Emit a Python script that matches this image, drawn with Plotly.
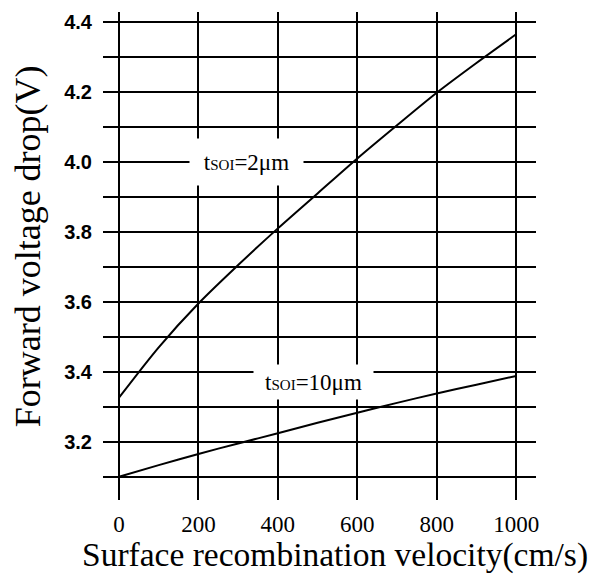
import plotly.graph_objects as go

# Surface recombination velocity (cm/s)
velocity = [0, 100, 200, 300, 400, 500, 600, 700, 800, 900, 1000]
# Forward voltage drop (V) for two SOI thicknesses
vf_tsoi_2um = [3.326, 3.47, 3.595, 3.705, 3.81, 3.91, 4.01, 4.105, 4.198, 4.283, 4.365]
vf_tsoi_10um = [3.100, 3.133, 3.165, 3.195, 3.224, 3.254, 3.283, 3.311, 3.338, 3.363, 3.388]

x_ticks = [0, 200, 400, 600, 800, 1000]
y_ticks = [3.2, 3.4, 3.6, 3.8, 4.0, 4.2, 4.4]

serif = "Liberation Serif, Times New Roman, serif"
sans = "Liberation Sans, Arial, sans-serif"

fig = go.Figure()
for vf in (vf_tsoi_2um, vf_tsoi_10um):
    fig.add_trace(go.Scatter(
        x=velocity, y=vf, mode="lines",
        line=dict(color="black", width=2, shape="spline", smoothing=0.8),
        showlegend=False, hoverinfo="skip",
    ))

label_style = dict(family=serif, size=23, color="black")
fig.add_annotation(
    x=322, y=4.0, xref="x", yref="y", showarrow=False,
    text="t<span style='font-size:15px'>SOI</span>=2μm",
    font=label_style, bgcolor="white", width=111, height=44,
)
fig.add_annotation(
    x=489, y=3.372, xref="x", yref="y", showarrow=False,
    text="t<span style='font-size:15px'>SOI</span>=10μm",
    font=label_style, bgcolor="white", width=117, height=32,
)

# axis titles placed as paper-referenced annotations
fig.add_annotation(
    x=0.536, y=-0.113, xref="paper", yref="paper", showarrow=False,
    xanchor="center", yanchor="middle",
    text="Surface recombination velocity(cm/s)",
    font=dict(family=serif, size=33.5, color="black"),
)
fig.add_annotation(
    x=-0.173, y=0.52, xref="paper", yref="paper", showarrow=False,
    xanchor="center", yanchor="middle", textangle=-90,
    text="Forward voltage drop(V)",
    font=dict(family=serif, size=36, color="black"),
)

fig.update_xaxes(
    range=[-40.3, 1050], tickvals=x_ticks, ticktext=[str(v) for v in x_ticks],
    showgrid=True, gridcolor="black", gridwidth=2,
    zeroline=False, showline=False, ticks="",
    tickfont=dict(family=serif, size=23, color="black"),
    ticklabelstandoff=8,
)
fig.update_yaxes(
    range=[3.0333, 4.4287], tickvals=y_ticks, ticktext=[f"{v:.1f}" for v in y_ticks],
    showgrid=True, gridcolor="black", gridwidth=2,
    minor=dict(dtick=0.1, tick0=3.1, showgrid=True, gridcolor="black", gridwidth=2),
    zeroline=False, showline=False, ticks="",
    tickfont=dict(family=sans, size=20, color="black", weight="bold"),
    ticklabelstandoff=10,
)

fig.update_layout(
    width=591, height=580,
    margin=dict(l=103, r=55, t=12, b=80),
    paper_bgcolor="white", plot_bgcolor="white",
)

fig.write_html("out.html")
